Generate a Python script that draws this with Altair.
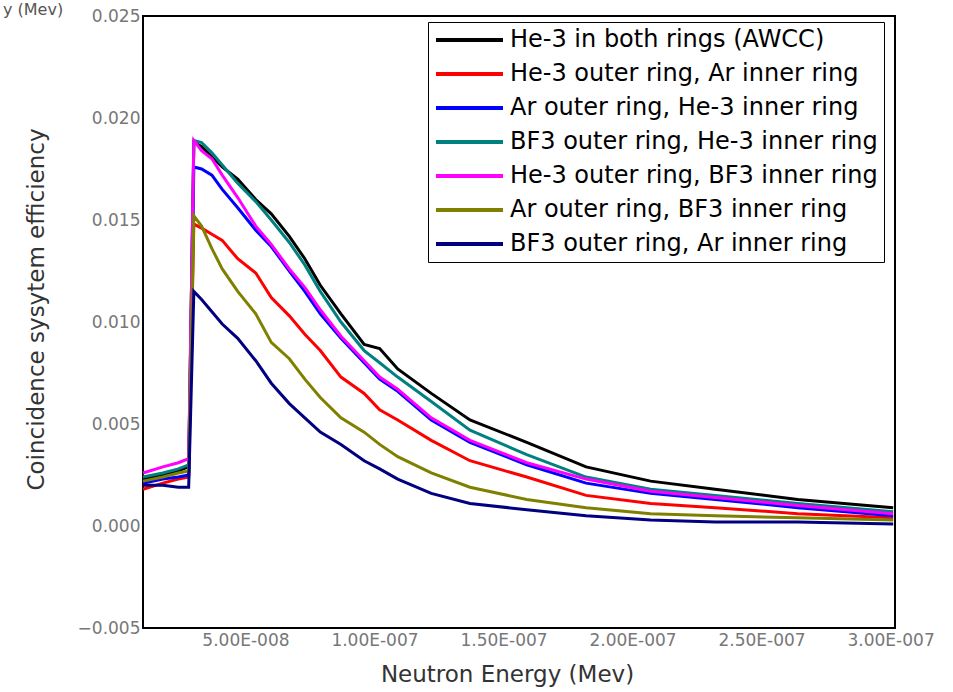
import altair as alt
import pandas as pd

# x positions in units of 1e-8 MeV
x_e8 = [1.03, 1.8, 2.4, 2.8, 3.0, 3.3, 3.7, 4.1, 4.7, 5.4, 6.0, 6.7, 7.3, 7.9, 8.7,
        9.6, 10.2, 10.9, 12.2, 13.7, 15.9, 18.2, 20.7, 23.2, 26.4, 30.1]

series_names = [
    "He-3 in both rings (AWCC)",
    "He-3 outer ring, Ar inner ring",
    "Ar outer ring, He-3 inner ring",
    "BF3 outer ring, He-3 inner ring",
    "He-3 outer ring, BF3 inner ring",
    "Ar outer ring, BF3 inner ring",
    "BF3 outer ring, Ar inner ring",
]
series_colors = ["#000000", "#ff0000", "#0000ff", "#008080", "#ff00ff", "#808000", "#000080"]

black = [0.0023, 0.0025, 0.0027, 0.0029, 0.0188, 0.0186, 0.0181, 0.0176, 0.0170, 0.0160, 0.0153,
         0.0142, 0.0131, 0.0118, 0.0104, 0.0089, 0.0087, 0.0077, 0.0065, 0.0052, 0.0041, 0.0029,
         0.0022, 0.0018, 0.0013, 0.0009]
red = [0.0018, 0.0021, 0.0023, 0.0024, 0.0148, 0.0146, 0.0143, 0.0140, 0.0131, 0.0124, 0.0112,
       0.0103, 0.0094, 0.0086, 0.0073, 0.0065, 0.0057, 0.0052, 0.0042, 0.0032, 0.0024, 0.0015,
       0.0011, 0.0009, 0.0006, 0.0004]
blue = [0.0021, 0.0023, 0.0024, 0.0025, 0.0176, 0.0175, 0.0172, 0.0165, 0.0156, 0.0145, 0.0137,
        0.0125, 0.0115, 0.0104, 0.0092, 0.0080, 0.0072, 0.0066, 0.0052, 0.0041, 0.0030, 0.0021,
        0.0016, 0.0013, 0.0009, 0.0005]
teal = [0.0024, 0.0026, 0.0028, 0.0030, 0.0189, 0.0188, 0.0183, 0.0177, 0.0168, 0.0159, 0.0150,
        0.0139, 0.0128, 0.0115, 0.0100, 0.0086, 0.0080, 0.0073, 0.0061, 0.0047, 0.0035, 0.0024,
        0.0018, 0.0015, 0.0011, 0.0007]
magenta = [0.0026, 0.0029, 0.0031, 0.0033, 0.0189, 0.0184, 0.0180, 0.0172, 0.0161, 0.0147, 0.0138,
           0.0126, 0.0117, 0.0106, 0.0093, 0.0081, 0.0073, 0.0067, 0.0053, 0.0042, 0.0031, 0.0023,
           0.0017, 0.0014, 0.0010, 0.0006]
olive = [0.0022, 0.0024, 0.0026, 0.0027, 0.0152, 0.0147, 0.0136, 0.0126, 0.0115, 0.0104, 0.0090,
         0.0082, 0.0072, 0.0063, 0.0053, 0.0046, 0.0040, 0.0034, 0.0026, 0.0019, 0.0013, 0.0009,
         0.0006, 0.0005, 0.0004, 0.0003]
navy = [0.0020, 0.0020, 0.0019, 0.0019, 0.0115, 0.0111, 0.0105, 0.0099, 0.0092, 0.0081, 0.0070,
        0.0060, 0.0053, 0.0046, 0.0040, 0.0032, 0.0028, 0.0023, 0.0016, 0.0011, 0.0008, 0.0005,
        0.0003, 0.0002, 0.0002, 0.0001]

all_series = [black, red, blue, teal, magenta, olive, navy]

x_ticks = [5e-8, 1e-7, 1.5e-7, 2e-7, 2.5e-7, 3e-7]
y_ticks = [-0.005, 0.0, 0.005, 0.010, 0.015, 0.020, 0.025]

rows = []
for name, vals in zip(series_names, all_series):
    for xv, yv in zip(x_e8, vals):
        rows.append({"energy": xv * 1e-8, "eff": yv, "series": name})
df = pd.DataFrame(rows)

FONT = "DejaVu Sans"

lines = alt.Chart(df).mark_line(strokeWidth=3).encode(
    x=alt.X("energy:Q",
            scale=alt.Scale(domain=[1.03e-8, 3.017e-7], nice=False, zero=False),
            axis=alt.Axis(values=x_ticks, title="Neutron Energy (Mev)",
                          labelExpr="replace(format(datum.value, '.2e'), 'e-', 'E-00')",
                          ticks=False, domain=False, grid=False, labelPadding=4,
                          labelFont=FONT, labelFontSize=17, labelColor="#777777",
                          titleFont=FONT, titleFontSize=23, titleFontWeight="normal",
                          titleColor="#333333", titleX=364, titleY=35)),
    y=alt.Y("eff:Q",
            scale=alt.Scale(domain=[-0.005, 0.025], nice=False, zero=False),
            axis=alt.Axis(values=y_ticks, format=".3f", title="Coincidence sysytem efficiency",
                          ticks=False, domain=False, grid=False, labelPadding=3,
                          labelFont=FONT, labelFontSize=17, labelColor="#777777",
                          titleFont=FONT, titleFontSize=23, titleFontWeight="normal",
                          titleColor="#333333", titleX=-95, titleY=293)),
    color=alt.Color("series:N",
                    scale=alt.Scale(domain=series_names, range=series_colors),
                    sort=series_names,
                    legend=alt.Legend(orient="none", legendX=285, legendY=6, title=None,
                                      symbolType="stroke", symbolSize=4489,
                                      symbolStrokeWidth=4, labelFont=FONT,
                                      labelFontSize=24, labelColor="#000000",
                                      labelOffset=5, rowPadding=10, padding=6,
                                      clipHeight=24,
                                      strokeColor="#000000", fillColor="#ffffff",
                                      labelLimit=500)),
)

corner = alt.Chart(pd.DataFrame({"t": ["y (Mev)"]})).mark_text(
    font=FONT, fontSize=16, color="#555555", align="left", baseline="top"
).encode(x=alt.value(-140), y=alt.value(-14), text="t:N")

chart = alt.layer(lines, corner).properties(
    width=752, height=612,
    autosize=alt.AutoSizeParams(type="none"),
    padding={"left": 143, "top": 16, "right": 58, "bottom": 64},
).configure_view(stroke="#000000", strokeWidth=2)

chart.save("out.html", embed_options={"renderer": "svg", "actions": False})
